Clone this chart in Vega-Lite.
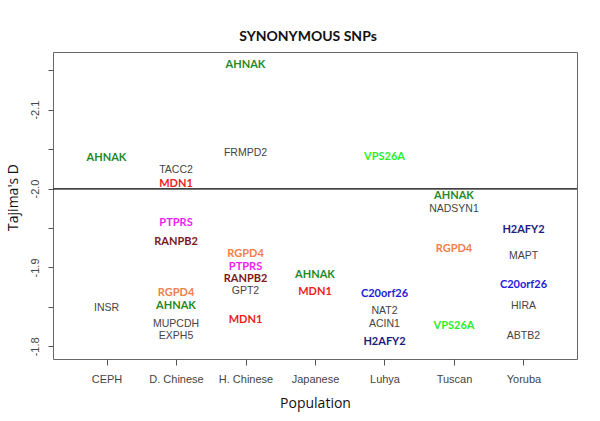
{
  "$schema": "https://vega.github.io/schema/vega-lite/v6.json",
  "autosize": {"type": "none"},
  "width": 524,
  "height": 307,
  "padding": {"left": 53, "top": 52, "right": 23, "bottom": 62},
  "background": "white",
  "config": {"view": {"stroke": "#666666", "strokeWidth": 1}},
  "title": {"text": "SYNONYMOUS SNPs", "font": "Lato", "fontWeight": "bold", "fontSize": 14, "color": "#111111", "anchor": "middle", "offset": 8, "dx": -7},
  "data": {"values": [
    {"pop": "CEPH", "gene": "AHNAK", "d": -2.039},
    {"pop": "CEPH", "gene": "INSR", "d": -1.849},
    {"pop": "D. Chinese", "gene": "TACC2", "d": -2.024},
    {"pop": "D. Chinese", "gene": "MDN1", "d": -2.006},
    {"pop": "D. Chinese", "gene": "PTPRS", "d": -1.956},
    {"pop": "D. Chinese", "gene": "RANPB2", "d": -1.932},
    {"pop": "D. Chinese", "gene": "RGPD4", "d": -1.867},
    {"pop": "D. Chinese", "gene": "AHNAK", "d": -1.851},
    {"pop": "D. Chinese", "gene": "MUPCDH", "d": -1.828},
    {"pop": "D. Chinese", "gene": "EXPH5", "d": -1.813},
    {"pop": "H. Chinese", "gene": "AHNAK", "d": -2.156},
    {"pop": "H. Chinese", "gene": "FRMPD2", "d": -2.045},
    {"pop": "H. Chinese", "gene": "RGPD4", "d": -1.917},
    {"pop": "H. Chinese", "gene": "PTPRS", "d": -1.901},
    {"pop": "H. Chinese", "gene": "RANPB2", "d": -1.886},
    {"pop": "H. Chinese", "gene": "GPT2", "d": -1.870},
    {"pop": "H. Chinese", "gene": "MDN1", "d": -1.833},
    {"pop": "Japanese", "gene": "AHNAK", "d": -1.891},
    {"pop": "Japanese", "gene": "MDN1", "d": -1.869},
    {"pop": "Luhya", "gene": "VPS26A", "d": -2.040},
    {"pop": "Luhya", "gene": "C20orf26", "d": -1.866},
    {"pop": "Luhya", "gene": "NAT2", "d": -1.845},
    {"pop": "Luhya", "gene": "ACIN1", "d": -1.828},
    {"pop": "Luhya", "gene": "H2AFY2", "d": -1.805},
    {"pop": "Tuscan", "gene": "AHNAK", "d": -1.990},
    {"pop": "Tuscan", "gene": "NADSYN1", "d": -1.974},
    {"pop": "Tuscan", "gene": "RGPD4", "d": -1.924},
    {"pop": "Tuscan", "gene": "VPS26A", "d": -1.826},
    {"pop": "Yoruba", "gene": "H2AFY2", "d": -1.948},
    {"pop": "Yoruba", "gene": "MAPT", "d": -1.915},
    {"pop": "Yoruba", "gene": "C20orf26", "d": -1.878},
    {"pop": "Yoruba", "gene": "HIRA", "d": -1.851},
    {"pop": "Yoruba", "gene": "ABTB2", "d": -1.813}
  ]},
  "encoding": {
    "x": {
      "field": "pop", "type": "nominal",
      "sort": ["CEPH", "D. Chinese", "H. Chinese", "Japanese", "Luhya", "Tuscan", "Yoruba"],
      "scale": {"type": "point", "padding": 0.77},
      "axis": {
        "title": "Population", "titleFont": "Open Sans", "titleFontSize": 14, "titleFontWeight": "normal", "titleColor": "#111111",
        "titleY": 44, "titleBaseline": "middle",
        "domain": false, "tickSize": 6, "tickColor": "#555555", "labelAngle": 0,
        "labelFont": "Liberation Sans", "labelFontSize": 11, "labelColor": "#444444", "labelPadding": 8, "grid": false
      }
    },
    "y": {
      "field": "d", "type": "quantitative",
      "scale": {"domain": [-2.173, -1.784], "reverse": true, "nice": false, "zero": false},
      "axis": {
        "title": "Tajima's D", "titleFont": "Open Sans", "titleFontSize": 14, "titleFontWeight": "normal", "titleColor": "#111111",
        "titleX": -40, "titleY": 145, "titleBaseline": "middle", "titleAlign": "center",
        "values": [-2.15, -2.1, -2.05, -2.0, -1.95, -1.9, -1.85, -1.8],
        "labelExpr": "abs(datum.value * 10 - round(datum.value * 10)) < 0.01 ? replace(format(datum.value, '.1f'), '\u2212', '-') : ''",
        "domain": false, "tickSize": 5, "tickColor": "#555555", "labelAngle": 270, "labelAlign": "center", "labelBaseline": "bottom",
        "labelFont": "Liberation Sans", "labelFontSize": 11, "labelColor": "#444444", "labelPadding": 8, "grid": false
      }
    }
  },
  "layer": [
    {
      "mark": {"type": "rule", "color": "#444444", "strokeWidth": 1},
      "encoding": {"y": {"datum": -2.0}, "x": null}
    },
    {
      "transform": [{"filter": {"not": {"field": "gene", "oneOf": ["AHNAK", "MDN1", "PTPRS", "RANPB2", "RGPD4", "VPS26A", "C20orf26", "H2AFY2"]}}}],
      "mark": {"type": "text", "font": "Liberation Sans", "fontSize": 10.5, "color": "#444444", "align": "center", "baseline": "middle"},
      "encoding": {"text": {"field": "gene"}}
    },
    {
      "transform": [{"filter": {"field": "gene", "oneOf": ["AHNAK", "MDN1", "PTPRS", "RANPB2", "RGPD4", "VPS26A", "C20orf26", "H2AFY2"]}}],
      "mark": {"type": "text", "font": "Lato", "fontWeight": "bold", "fontSize": 11, "align": "center", "baseline": "middle"},
      "encoding": {
        "text": {"field": "gene"},
        "color": {
          "field": "gene", "type": "nominal", "legend": null,
          "scale": {
            "domain": ["AHNAK", "MDN1", "PTPRS", "RANPB2", "RGPD4", "VPS26A", "C20orf26", "H2AFY2"],
            "range": ["#1f8a1f", "#ee1c1c", "#ee22ee", "#7b1818", "#f0804a", "#2aee2a", "#1c1cd8", "#1c1c80"]
          }
        }
      }
    }
  ]
}
